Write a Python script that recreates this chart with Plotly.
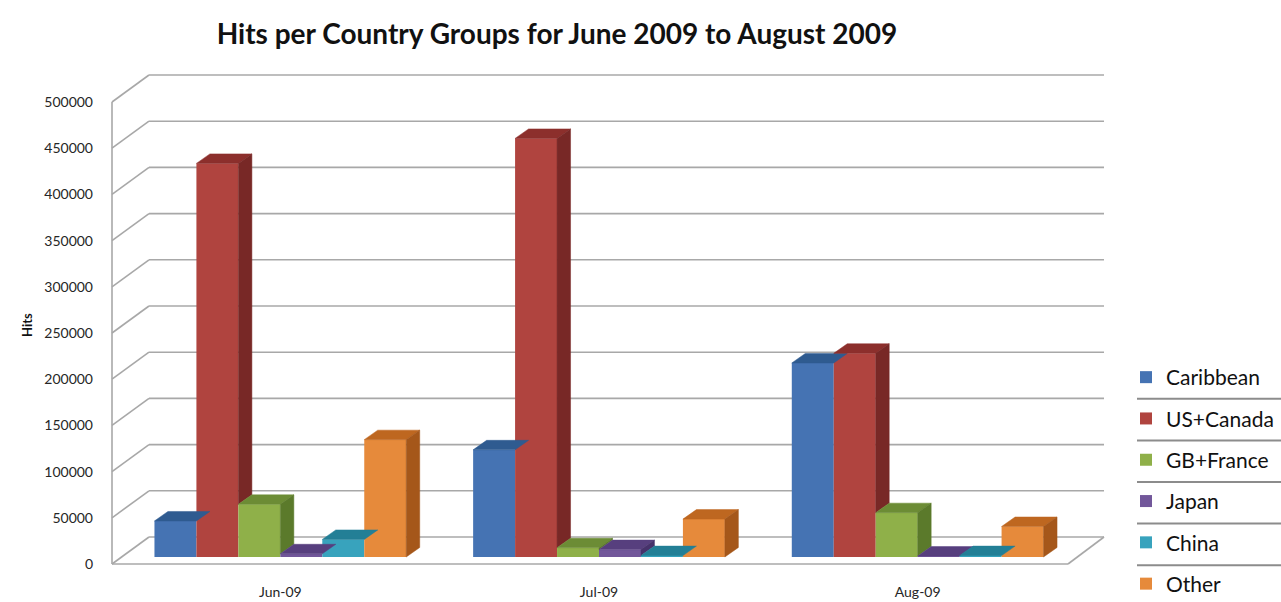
import plotly.graph_objects as go

# ---------------- data ----------------
categories = ["Jun-09", "Jul-09", "Aug-09"]
series_names = ["Caribbean", "US+Canada", "GB+France", "Japan", "China", "Other"]
caribbean = [39000, 116000, 210000]
us_canada = [426000, 453000, 220500]
gb_france = [57000, 10000, 48000]
japan = [3500, 8000, 1000]
china = [19000, 1500, 1500]
other = [127000, 41000, 33000]
y_ticks = [0, 50000, 100000, 150000, 200000, 250000, 300000, 350000, 400000, 450000, 500000]

series_values = [caribbean, us_canada, gb_france, japan, china, other]
front_colors = ["#4573b3", "#b0443f", "#8fb049", "#72579a", "#38a3bd", "#e68a3b"]
top_colors = ["#2f5b90", "#8c2f2c", "#6c8c35", "#573f7e", "#237f96", "#be6720"]
side_colors = ["#274d7a", "#782826", "#5b7a2b", "#47326b", "#1d6c80", "#a5571a"]

# ---------------- geometry (pixels) ----------------
FIG_W, FIG_H = 1281, 602
L, R = 112, 1068          # front floor left/right
B, T = 564, 102           # front 0 / front max
PT = 80                   # top of plotting area (room for the top tick)
W, H = R - L, B - T
VMAX = 500000
DEPTH_X, DEPTH_Y = 37, 27  # wall depth
BACK_R = 1104
SHIFT_X, SHIFT_Y = 9, 7    # bar plane offset
BAR_DX, BAR_DY = 13.5, 9.5  # bar depth
ppx = W / len(categories)
vpp = VMAX / H
bargap = 0.21
bw = (1 - bargap) / len(series_names)


def pxx(x):
    return (x - L) / W


def pxy(y):
    return (B - y) / (B - PT)


fig = go.Figure()

xs = list(range(len(categories)))
for j, (name, vals) in enumerate(zip(series_names, series_values)):
    fig.add_trace(go.Bar(
        x=xs, y=vals, name=name, width=bw, offset=-(1 - bargap) / 2 + j * bw,
        marker=dict(color=front_colors[j], line=dict(width=0)),
        legendgroup=name, xaxis="x", yaxis="y",
        hovertemplate="%{y}<extra>" + name + "</extra>",
    ))

ddx = BAR_DX / ppx
ddy = BAR_DY * vpp
for j, vals in enumerate(series_values):
    tx, ty, sxs, sys_ = [], [], [], []
    for i, v in enumerate(vals):
        xl = i - (1 - bargap) / 2 + j * bw
        xr = xl + bw
        tx += [xl, xl + ddx, xr + ddx, xr, xl, None]
        ty += [v, v + ddy, v + ddy, v, v, None]
        base = series_values[j + 1][i] if j + 1 < len(series_values) else 0
        if v > base:
            sxs += [xr, xr + ddx, xr + ddx, xr, xr, None]
            sys_ += [base, base + ddy, v + ddy, v, base, None]
    fig.add_trace(go.Scatter(x=tx, y=ty, mode="lines", fill="toself",
                             fillcolor=top_colors[j], line=dict(width=0.5, color=top_colors[j]),
                             showlegend=False, hoverinfo="skip", xaxis="x", yaxis="y"))
    fig.add_trace(go.Scatter(x=sxs, y=sys_, mode="lines", fill="toself",
                             fillcolor=side_colors[j], line=dict(width=0.5, color=side_colors[j]),
                             showlegend=False, hoverinfo="skip", xaxis="x", yaxis="y"))

# ---------------- walls / gridlines ----------------
grid = dict(color="#a8a8a8", width=1.6)
shapes = []
for v in y_ticks:
    yf = B - v / VMAX * H
    shapes.append(dict(type="line", xref="paper", yref="paper", layer="below",
                       x0=pxx(L), y0=pxy(yf), x1=pxx(L + DEPTH_X), y1=pxy(yf - DEPTH_Y), line=grid))
    shapes.append(dict(type="line", xref="paper", yref="paper", layer="below",
                       x0=pxx(L + DEPTH_X), y0=pxy(yf - DEPTH_Y), x1=pxx(BACK_R), y1=pxy(yf - DEPTH_Y), line=grid))
shapes.append(dict(type="line", xref="paper", yref="paper", layer="below",
                   x0=pxx(L), y0=pxy(B), x1=pxx(L), y1=pxy(T), line=grid))
shapes.append(dict(type="line", xref="paper", yref="paper", layer="below",
                   x0=pxx(L), y0=pxy(B), x1=pxx(R), y1=pxy(B), line=grid))
shapes.append(dict(type="line", xref="paper", yref="paper", layer="below",
                   x0=pxx(R), y0=pxy(B), x1=pxx(BACK_R), y1=pxy(B - DEPTH_Y), line=grid))

# legend separators
LEG_FIRST, LEG_STEP = 378, 41.6
for k in range(len(series_names) - 1):
    ys = LEG_FIRST + LEG_STEP * k + LEG_STEP / 2
    shapes.append(dict(type="line", xref="paper", yref="paper",
                       x0=pxx(1137), x1=pxx(1281), y0=pxy(ys), y1=pxy(ys),
                       line=dict(color="#8c8c8c", width=2)))

FONT = "Lato"
fig.update_layout(
    width=FIG_W, height=FIG_H,
    margin=dict(l=L, r=FIG_W - R, t=PT, b=FIG_H - B, pad=0, autoexpand=False),
    paper_bgcolor="white", plot_bgcolor="rgba(0,0,0,0)",
    barmode="overlay",
    font=dict(family=FONT, color="#262626"),
    title=dict(text="<b>Hits per Country Groups for June 2009 to August 2009</b>",
               x=557 / FIG_W, xref="container", xanchor="center",
               y=1 - 34 / FIG_H, yref="container", yanchor="middle",
               font=dict(family=FONT, size=28, color="#111111")),
    xaxis=dict(range=[-0.5 - SHIFT_X / ppx, len(categories) - 0.5 - SHIFT_X / ppx],
               tickvals=xs, ticktext=categories, showgrid=False, zeroline=False,
               showline=False, ticks="", ticklabelstandoff=18, automargin=False,
               tickfont=dict(size=14, color="#262626")),
    yaxis=dict(range=[-SHIFT_Y * vpp, (B - PT - SHIFT_Y) * vpp],
               tickvals=y_ticks, showgrid=False, zeroline=False, showline=False,
               ticks="", ticklabelstandoff=18, tickformat="d", ticklabelshift=SHIFT_Y,
               automargin=False, tickfont=dict(size=14, color="#262626")),
    shapes=shapes,
    legend=dict(x=pxx(1126), xanchor="left", y=pxy(LEG_FIRST - 21), yanchor="top",
                font=dict(family=FONT, size=21, color="#111111"),
                tracegroupgap=11, bgcolor="rgba(0,0,0,0)", itemwidth=30),
    annotations=[dict(text="<b>Hits</b>", textangle=-90, xref="paper", yref="paper",
                      x=pxx(17), y=pxy(325), showarrow=False,
                      font=dict(family=FONT, size=13, color="#111111"))],
    showlegend=True,
)

fig.write_html("out.html")
